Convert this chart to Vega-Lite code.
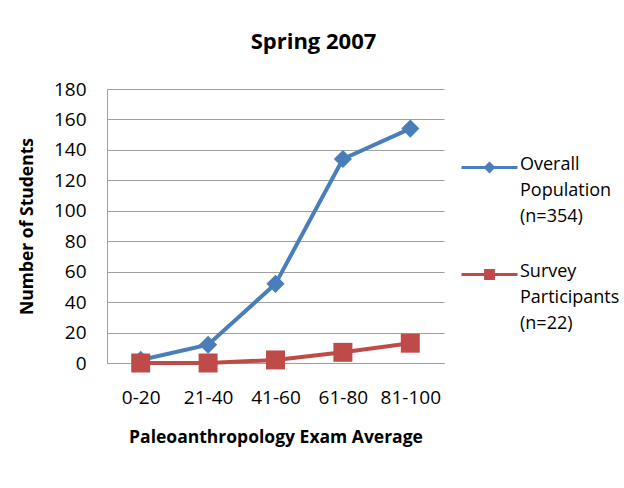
{
  "$schema": "https://vega.github.io/schema/vega-lite/v6.json",
  "autosize": {"type": "none"},
  "width": 337,
  "height": 274,
  "padding": {"left": 107, "top": 89, "right": 180, "bottom": 125},
  "background": "white",
  "title": {
    "text": "Spring 2007",
    "font": "Open Sans",
    "fontSize": 22,
    "fontWeight": "bold",
    "color": "#000000",
    "anchor": "middle",
    "dx": 38,
    "offset": 26
  },
  "data": {
    "values": [
      {"range": "0-20", "series": "Overall Population (n=354)", "students": 2},
      {"range": "21-40", "series": "Overall Population (n=354)", "students": 12},
      {"range": "41-60", "series": "Overall Population (n=354)", "students": 52},
      {"range": "61-80", "series": "Overall Population (n=354)", "students": 134},
      {"range": "81-100", "series": "Overall Population (n=354)", "students": 154},
      {"range": "0-20", "series": "Survey Participants (n=22)", "students": 0},
      {"range": "21-40", "series": "Survey Participants (n=22)", "students": 0},
      {"range": "41-60", "series": "Survey Participants (n=22)", "students": 2},
      {"range": "61-80", "series": "Survey Participants (n=22)", "students": 7},
      {"range": "81-100", "series": "Survey Participants (n=22)", "students": 13}
    ]
  },
  "encoding": {
    "x": {
      "field": "range",
      "type": "ordinal",
      "sort": ["0-20", "21-40", "41-60", "61-80", "81-100"],
      "scale": {"type": "point", "padding": 0.5},
      "axis": {
        "title": "Paleoanthropology Exam Average",
        "labelAngle": 0,
        "ticks": false,
        "grid": false,
        "domainColor": "#a0a0a0",
        "labelPadding": 25,
        "titlePadding": 21
      }
    },
    "y": {
      "field": "students",
      "type": "quantitative",
      "scale": {"domain": [0, 180], "nice": false},
      "axis": {
        "title": "Number of Students",
        "values": [0, 20, 40, 60, 80, 100, 120, 140, 160, 180],
        "ticks": false,
        "gridColor": "#a0a0a0",
        "domainColor": "#a0a0a0",
        "labelPadding": 21,
        "titlePadding": 17
      }
    },
    "color": {
      "field": "series",
      "type": "nominal",
      "scale": {"range": ["#4a7ebb", "#be4b48"]},
      "legend": {
        "title": null,
        "orient": "none",
        "legendX": 353,
        "legendY": 49,
        "padding": 0,
        "symbolSize": 3136,
        "symbolStrokeWidth": 3,
        "rowPadding": 19,
        "labelOffset": 1,
        "labelExpr": "datum.label == 'Overall Population (n=354)' ? ['Overall', 'Population', '(n=354)'] : ['Survey', 'Participants', '(n=22)']",
        "labelBaseline": "top",
        "encoding": {
          "symbols": {
            "shape": {
              "condition": {"test": "datum.value == 'Overall Population (n=354)'", "value": "M-1,0H1M0,-0.14L0.14,0L0,0.14L-0.14,0Z"},
              "value": "M-1,0H1M-0.14,-0.14H0.14V0.14H-0.14Z"
            }
          },
          "labels": {
            "lineHeight": {"value": 26},
            "dy": {"value": -12}
          }
        }
      }
    }
  },
  "layer": [
    {
      "mark": {"type": "line", "strokeWidth": 4}
    },
    {
      "mark": {"type": "point", "filled": true, "opacity": 1},
      "encoding": {
        "shape": {
          "field": "series",
          "type": "nominal",
          "scale": {"range": ["diamond", "square"]},
          "legend": null
        },
        "size": {
          "field": "series",
          "type": "nominal",
          "scale": {"range": [330, 360]},
          "legend": null
        }
      }
    }
  ],
  "config": {
    "font": "Open Sans",
    "view": {"stroke": null},
    "axis": {
      "labelFont": "Open Sans",
      "labelFontSize": 19,
      "labelColor": "#000000",
      "titleFont": "Open Sans",
      "titleFontSize": 17.5,
      "titleFontWeight": "bold",
      "titleColor": "#000000"
    },
    "legend": {
      "labelFont": "Open Sans",
      "labelFontSize": 18,
      "labelColor": "#000000",
      "labelLimit": 200
    }
  }
}
